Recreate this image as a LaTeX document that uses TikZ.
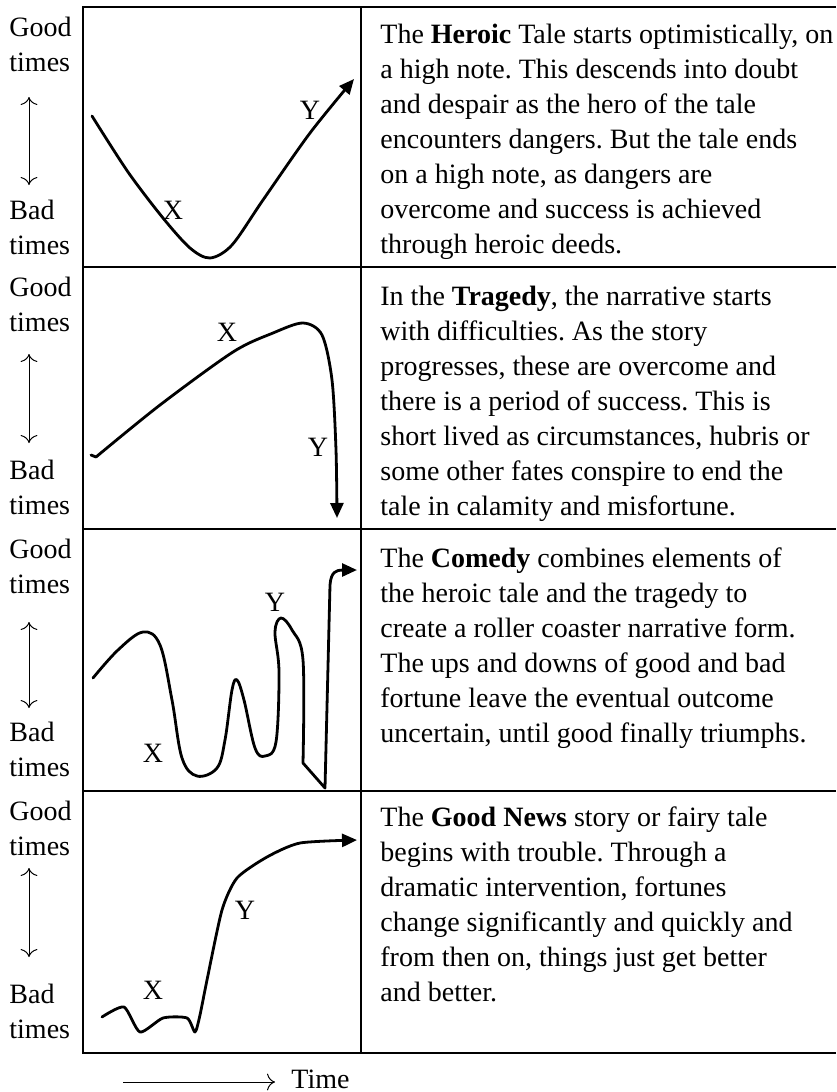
\documentclass[tikz,border=0pt]{standalone}
\usepackage{fontspec}
\setmainfont{Liberation Serif}
\usetikzlibrary{arrows.meta, positioning, calc}
\frenchspacing

\tikzset{
  rule/.style={line width=0.75pt},
  story/.style={line width=1.4pt, line cap=round, line join=round},
  storytip/.style={-{Triangle[length=7.5pt, width=6.5pt]}},
  tag/.style={inner sep=0pt},
  blurb/.style={inner sep=0pt, anchor=base west, align=left},
  side/.style={inner sep=0pt, anchor=base west, align=left},
}

\begin{document}
\begin{tikzpicture}[x=0.5pt, y=-0.5pt, font=\fontsize{14}{17.5}\selectfont]
        \useasboundingbox (0,0) rectangle (836,1092);

        % Tabelle: Rahmen und Trennlinien
        \draw[rule] (836,7) -- (83,7) -- (83,1053) -- (836,1053);
        \draw[rule] (361,7) -- (361,1053);
        \foreach \y in {267, 529, 791}
            \draw[rule] (83,\y) -- (836,\y);

        % linke Spalte: Good times / Bad times mit Doppelpfeil
        % (base = Grundlinie der letzten Zeile)
        \foreach \i/\top/\ah/\at in {1/7/90/178, 2/267/87/176, 3/529/93/179, 4/791/77/166} {
            \node[side] (good\i) at (9,\top+64) {Good\\times};
            \node[side] (bad\i) at (9,\top+247) {Bad\\times};
            \coordinate (up\i) at (29,\top+\ah);
            \coordinate (dn\i) at (29,\top+\at);
            \draw[line width=0.5pt, {To[length=4pt]}-{To[length=4pt]}] (up\i) -- (dn\i);
        }

        % Heroic: Tal
        \draw[story, storytip] plot[smooth] coordinates {(92,116) (128,172) (163,218) (190,248) (210,258) (232,245) (263,200) (310,133) (354,79)};
        \node[tag] (x1) at (173,210) {X};
        \node[tag] (y1) at (310,110) {Y};

        % Tragedy: Anstieg, dann Absturz
        \draw[story, storytip] (91,455) -- (96,457) plot[smooth] coordinates {(96,457) (160,405) (233,352) (273,333) (303,323) (322,335) (332,380) (336,450) (337,518)};
        \node[tag] (x2) at (227,332) {X};
        \node[tag] (y2) at (318,447) {Y};

        % Comedy: Achterbahn
        \draw[story, storytip] plot[smooth, tension=0.6] coordinates {(93,678) (118,650) (143,632) (160,645) (172,700) (182,758) (197,776) (217,768) (225,740) (232,690) (237,680) (244,700) (255,748) (265,756) (276,742) (279,672) (275,632) (281,618) (292,630) (303,660) (303,763)}
            -- (325,788) -- (330,585) .. controls (331,572) and (336,570) .. (357,570);
        \node[tag] (x3) at (153,753) {X};
        \node[tag] (y3) at (275,602) {Y};

        % Good News: steiler Aufstieg
        \draw[story, storytip] plot[smooth, tension=0.4] coordinates {(102,1017) (124,1007) (140,1032) (163,1018) (187,1018) (195,1032) (200,1015) (207,980) (222,910) (237,878) (267,857) (300,843) (357,840)};
        \node[tag] (x4) at (153,990) {X};
        \node[tag] (y4) at (245,910) {Y};

        % rechte Spalte: Texte (Anker auf letzter Zeile)
        \node[blurb] (heroic) at (380,253) {The \textbf{Heroic} Tale starts optimistically, on\\a high note. This descends into doubt\\and despair as the hero of the tale\\encounters dangers. But the tale ends\\on a high note, as dangers are\\overcome and success is achieved\\through heroic deeds.};
        \node[blurb] (tragedy) at (380,515) {In the \textbf{Tragedy}, the narrative starts\\with difficulties. As the story\\progresses, these are overcome and\\there is a period of success. This is\\short lived as circumstances, hubris or\\some other fates conspire to end the\\tale in calamity and misfortune.};
        \node[blurb] (comedy) at (380,742) {The \textbf{Comedy} combines elements of\\the heroic tale and the tragedy to\\create a roller coaster narrative form.\\The ups and downs of good and bad\\fortune leave the eventual outcome\\uncertain, until good finally triumphs.};
        \node[blurb] (goodnews) at (380,1001) {The \textbf{Good News} story or fairy tale\\begins with trouble. Through a\\dramatic intervention, fortunes\\change significantly and quickly and\\from then on, things just get better\\and better.};

        % Zeitachse
        \node[side] (time) at (291,1088) {Time};
        \coordinate (t0) at (123,1082);
        \draw[line width=0.5pt, -{To[length=4pt]}, shorten >=8pt] (t0) -- (t0 -| time.west);
    \end{tikzpicture}
\end{document}
